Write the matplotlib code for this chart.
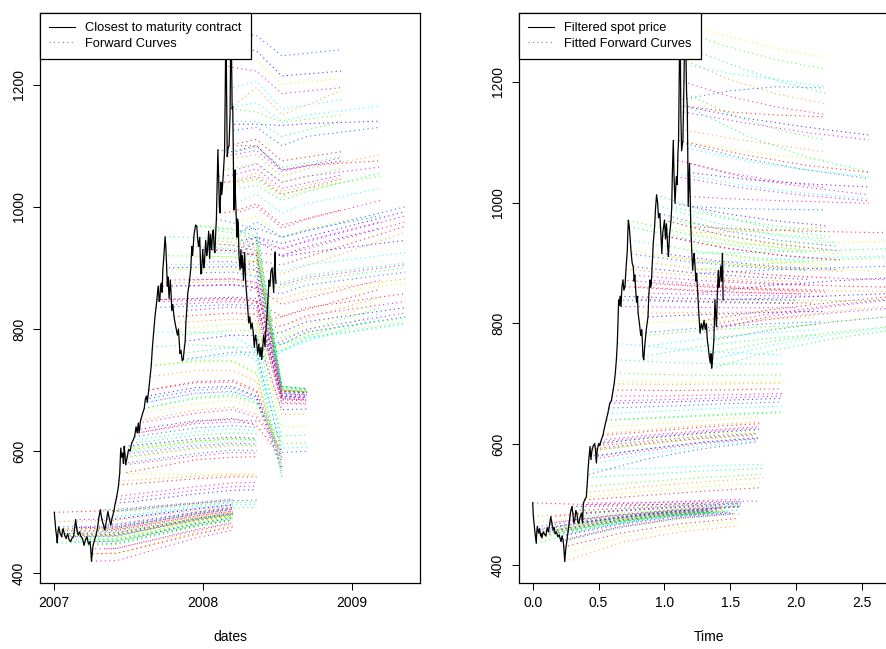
import numpy as np
import matplotlib
matplotlib.use('Agg')
import matplotlib.pyplot as plt
from matplotlib.lines import Line2D

plt.rcParams['font.family'] = ['Liberation Sans', 'DejaVu Sans']
plt.rcParams['font.size'] = 10

# ---------------- left panel: closest-to-maturity contract ----------------
spot_left = [
    (2007.000, 500), (2007.005, 485), (2007.010, 471), (2007.015, 462), (2007.020, 450), (2007.025, 468),
    (2007.030, 476), (2007.040, 465), (2007.050, 460), (2007.055, 470), (2007.060, 473), (2007.070, 462),
    (2007.080, 457), (2007.090, 465), (2007.100, 455), (2007.110, 452), (2007.120, 458), (2007.130, 460),
    (2007.137, 475), (2007.144, 488), (2007.150, 475), (2007.160, 463), (2007.170, 468), (2007.180, 460),
    (2007.190, 457), (2007.200, 446), (2007.210, 455), (2007.220, 460), (2007.230, 448), (2007.240, 452),
    (2007.245, 440), (2007.250, 420), (2007.255, 432), (2007.260, 445), (2007.270, 454), (2007.280, 462),
    (2007.290, 473), (2007.300, 492), (2007.310, 504), (2007.315, 495), (2007.320, 488), (2007.330, 480),
    (2007.340, 471), (2007.350, 485), (2007.360, 501), (2007.370, 490), (2007.380, 479), (2007.390, 492),
    (2007.400, 501), (2007.410, 515), (2007.420, 526), (2007.430, 540), (2007.440, 564), (2007.447, 605),
    (2007.453, 590), (2007.460, 597), (2007.465, 580), (2007.470, 608), (2007.475, 595), (2007.480, 578),
    (2007.490, 590), (2007.500, 603), (2007.510, 600), (2007.520, 613), (2007.530, 618), (2007.540, 624),
    (2007.550, 640), (2007.557, 630), (2007.565, 646), (2007.570, 630), (2007.580, 650), (2007.594, 662),
    (2007.605, 670), (2007.612, 685), (2007.620, 690), (2007.625, 680), (2007.635, 700), (2007.644, 722),
    (2007.652, 740), (2007.660, 771), (2007.668, 795), (2007.677, 820), (2007.684, 835), (2007.690, 848),
    (2007.695, 862), (2007.700, 870), (2007.705, 845), (2007.710, 848), (2007.715, 870), (2007.720, 875),
    (2007.725, 860), (2007.730, 897), (2007.737, 920), (2007.745, 951), (2007.750, 935), (2007.755, 905),
    (2007.760, 870), (2007.765, 885), (2007.772, 850), (2007.780, 880), (2007.785, 860), (2007.790, 830),
    (2007.797, 840), (2007.805, 820), (2007.812, 810), (2007.820, 800), (2007.828, 790), (2007.835, 800),
    (2007.845, 760), (2007.852, 765), (2007.860, 748), (2007.867, 750), (2007.873, 765), (2007.880, 780),
    (2007.885, 810), (2007.890, 830), (2007.898, 860), (2007.905, 870), (2007.910, 880), (2007.918, 900),
    (2007.925, 935), (2007.930, 920), (2007.940, 955), (2007.950, 970), (2007.958, 968), (2007.965, 945),
    (2007.970, 935), (2007.978, 950), (2007.985, 890), (2007.990, 892), (2007.998, 930), (2008.005, 900),
    (2008.010, 910), (2008.018, 945), (2008.025, 920), (2008.030, 930), (2008.038, 960), (2008.045, 915),
    (2008.050, 955), (2008.058, 930), (2008.065, 960), (2008.070, 962), (2008.075, 930), (2008.080, 925),
    (2008.085, 955), (2008.090, 980), (2008.095, 1040), (2008.100, 1093), (2008.105, 1050), (2008.110, 1000),
    (2008.115, 990), (2008.120, 1040), (2008.125, 1020), (2008.130, 1030), (2008.138, 1060), (2008.145, 1090),
    (2008.150, 1200), (2008.155, 1330), (2008.158, 1200), (2008.163, 1082), (2008.168, 1095), (2008.175, 1100),
    (2008.182, 1150), (2008.188, 1330), (2008.192, 1250), (2008.196, 1160), (2008.200, 1164), (2008.204, 1080),
    (2008.208, 995), (2008.212, 1040), (2008.215, 1060), (2008.218, 1020), (2008.222, 990), (2008.228, 950),
    (2008.232, 980), (2008.237, 974), (2008.242, 920), (2008.249, 897), (2008.255, 930), (2008.260, 900),
    (2008.265, 920), (2008.272, 880), (2008.280, 925), (2008.286, 880), (2008.292, 860), (2008.300, 837),
    (2008.307, 810), (2008.315, 820), (2008.322, 800), (2008.330, 810), (2008.338, 794), (2008.345, 770),
    (2008.352, 790), (2008.360, 780), (2008.368, 760), (2008.375, 775), (2008.383, 755), (2008.390, 770),
    (2008.395, 750), (2008.400, 765), (2008.408, 790), (2008.417, 771), (2008.423, 800), (2008.430, 820),
    (2008.437, 850), (2008.444, 880), (2008.450, 870), (2008.457, 895), (2008.465, 900), (2008.470, 880),
    (2008.475, 860), (2008.480, 900), (2008.484, 925), (2008.487, 890), (2008.490, 875),
]
spot_dates = [d for d, p in spot_left]
spot_price = [p for d, p in spot_left]

# forward curves: (observation date, price at observation, prices at the group's maturities)
la_knots = [2007.42, 2007.95, 2008.20]
la_curves = [
    (2007.00, 500, 503, 515, 520), (2007.005, 485, 487, 503, 510), (2007.01, 471, 472, 492, 500),
    (2007.015, 462, 464, 486, 494), (2007.02, 450, 452, 478, 488), (2007.025, 468, 470, 490, 499),
    (2007.03, 476, 478, 500, 508), (2007.04, 465, 467, 489, 498), (2007.05, 460, 462, 487, 496),
    (2007.055, 470, 471, 494, 502), (2007.06, 473, 474, 497, 505), (2007.07, 462, 463, 488, 496),
    (2007.08, 457, 458, 484, 493), (2007.09, 465, 466, 490, 498), (2007.10, 452, 453, 480, 490),
    (2007.115, 455, 456, 483, 492), (2007.12, 460, 461, 489, 497), (2007.137, 475, 476, 497, 505),
    (2007.14, 488, 489, 506, 513), (2007.15, 475, 476, 498, 506), (2007.16, 463, 464, 490, 499),
    (2007.17, 468, 469, 492, 500), (2007.18, 457, 458, 486, 494), (2007.20, 446, 447, 476, 486),
    (2007.21, 455, 456, 482, 492), (2007.22, 460, 461, 488, 497), (2007.23, 448, 449, 478, 488),
    (2007.24, 452, 453, 481, 491), (2007.245, 440, 441, 472, 483), (2007.25, 420, 421, 458, 471),
    (2007.255, 432, 433, 464, 476), (2007.26, 432, 433, 466, 478), (2007.27, 454, 455, 483, 492),
    (2007.28, 462, 463, 488, 497), (2007.29, 473, 474, 497, 505), (2007.30, 492, 493, 509, 516),
    (2007.31, 504, 505, 516, 522), (2007.32, 488, 489, 505, 512), (2007.33, 480, 481, 500, 508),
    (2007.34, 471, 472, 494, 502), (2007.35, 440, 441, 470, 482), (2007.37, 462, 463, 487, 496),
    (2007.39, 450, 452, 478, 489),
]
lb_knots = [2007.55, 2007.95, 2008.20, 2008.36]
lb_curves = [
    (2007.36, 501, 503, 512, 516, 517), (2007.38, 479, 484, 500, 507, 508),
    (2007.39, 492, 495, 507, 512, 513), (2007.40, 501, 505, 514, 519, 520),
    (2007.41, 515, 518, 530, 536, 537), (2007.415, 520, 524, 536, 542, 543),
    (2007.42, 526, 530, 542, 548, 549), (2007.43, 545, 547, 555, 558, 558),
    (2007.435, 552, 553, 559, 561, 561), (2007.44, 564, 563, 562, 563, 563),
]
lc_knots = [2007.95, 2008.20, 2008.36]
lc_curves = [
    (2007.447, 605, 617, 620, 618), (2007.453, 590, 606, 611, 610), (2007.46, 597, 612, 616, 615),
    (2007.465, 580, 596, 602, 601), (2007.47, 608, 620, 623, 621), (2007.475, 595, 609, 613, 612),
    (2007.48, 578, 592, 598, 597), (2007.485, 565, 586, 590, 591), (2007.49, 590, 604, 609, 608),
    (2007.50, 603, 615, 619, 617), (2007.51, 602, 616, 621, 619), (2007.52, 613, 626, 630, 628),
    (2007.53, 618, 632, 636, 634), (2007.54, 624, 638, 642, 639), (2007.55, 635, 650, 652, 649),
    (2007.557, 630, 645, 648, 645),
]
ld_knots = [2007.95, 2008.20, 2008.36, 2008.53]
ld_curves = [
    (2007.565, 646, 662, 668, 655, 600), (2007.57, 630, 648, 654, 642, 590),
    (2007.58, 650, 667, 672, 660, 605), (2007.594, 662, 678, 683, 670, 612),
    (2007.60, 670, 686, 690, 677, 616), (2007.605, 670, 688, 693, 680, 596),
    (2007.61, 680, 694, 697, 683, 620), (2007.612, 685, 700, 703, 688, 588),
    (2007.62, 690, 704, 706, 690, 574), (2007.625, 680, 695, 698, 684, 568),
    (2007.63, 700, 712, 713, 697, 580), (2007.635, 700, 714, 716, 700, 592),
    (2007.644, 722, 732, 732, 714, 585), (2007.652, 740, 746, 746, 726, 575),
    (2007.65, 740, 748, 748, 728, 560), (2007.66, 771, 774, 770, 748, 565),
    (2007.67, 795, 795, 790, 765, 556),
]
le_knots = [2008.20, 2008.36, 2008.53, 2008.70]
le_curves = [
    (2007.684, 835, 840, 838, 686, 684), (2007.69, 848, 852, 850, 690, 688),
    (2007.70, 870, 872, 868, 695, 692), (2007.705, 845, 848, 846, 688, 686),
    (2007.71, 848, 850, 846, 684, 682), (2007.72, 875, 878, 873, 698, 695),
    (2007.73, 897, 898, 890, 700, 697), (2007.737, 920, 918, 908, 702, 699),
    (2007.745, 951, 948, 936, 705, 700), (2007.755, 905, 906, 898, 700, 697),
    (2007.76, 870, 873, 868, 692, 690), (2007.77, 900, 902, 896, 699, 696),
    (2007.78, 880, 882, 876, 694, 692), (2007.79, 840, 845, 842, 686, 684),
    (2007.805, 820, 826, 824, 680, 678), (2007.812, 810, 816, 814, 660, 661),
    (2007.82, 800, 808, 806, 640, 641), (2007.83, 790, 798, 797, 612, 614),
    (2007.845, 760, 770, 770, 625, 626), (2007.86, 748, 758, 758, 605, 607),
    (2007.867, 750, 762, 762, 598, 600), (2007.88, 780, 790, 789, 668, 669),
    (2007.89, 830, 836, 833, 678, 677), (2007.905, 870, 872, 867, 686, 684),
    (2007.91, 880, 882, 876, 690, 688), (2007.925, 935, 930, 921, 700, 697),
    (2007.93, 920, 918, 910, 698, 695), (2007.95, 970, 964, 952, 707, 703),
    (2007.958, 968, 962, 950, 706, 702), (2007.97, 935, 932, 924, 700, 697),
    (2007.99, 892, 893, 886, 690, 688), (2008.00, 930, 928, 920, 697, 695),
    (2008.01, 910, 910, 903, 694, 692), (2008.02, 940, 937, 928, 699, 697),
    (2008.03, 930, 928, 920, 698, 696), (2008.04, 945, 942, 932, 700, 698),
    (2008.05, 955, 950, 940, 702, 699), (2008.06, 940, 937, 928, 699, 697),
    (2008.07, 962, 957, 946, 704, 700), (2008.08, 925, 924, 916, 696, 694),
    (2008.09, 980, 974, 962, 706, 702),
]
lf_knots = [2008.20, 2008.36, 2008.53, 2008.93]
lf_curves = [
    (2008.10, 1093, 1090, 1100, 1060, 1075), (2008.105, 1050, 1052, 1062, 1030, 1052),
    (2008.11, 1040, 1040, 1050, 1020, 1045), (2008.115, 990, 992, 1005, 970, 995),
    (2008.12, 1040, 1042, 1055, 1025, 1048), (2008.125, 1030, 1032, 1045, 1015, 1040),
    (2008.138, 1060, 1062, 1072, 1040, 1062), (2008.14, 1090, 1088, 1098, 1064, 1082),
    (2008.15, 1200, 1195, 1205, 1160, 1175), (2008.155, 1290, 1285, 1280, 1247, 1257),
    (2008.16, 1265, 1262, 1255, 1214, 1222), (2008.163, 1082, 1085, 1092, 1058, 1080),
    (2008.17, 1230, 1228, 1222, 1185, 1195), (2008.175, 1100, 1102, 1110, 1075, 1090),
    (2008.18, 1175, 1165, 1195, 1150, 1190), (2008.185, 1250, 1245, 1240, 1200, 1210),
    (2008.19, 1160, 1160, 1155, 1138, 1150), (2008.195, 1140, 1140, 1140, 1115, 1140),
]
lg_knots = [2008.36, 2008.53, 2008.70, 2009.19]
lg_curves = [
    (2008.20, 1164, 1170, 1140, 1150, 1165), (2008.205, 1125, 1130, 1100, 1115, 1130),
    (2008.21, 1135, 1135, 1133, 1136, 1140), (2008.215, 1060, 1070, 1040, 1050, 1065),
    (2008.22, 990, 1000, 965, 980, 1010), (2008.225, 1100, 1100, 1060, 1068, 1075),
    (2008.23, 1080, 1085, 1050, 1062, 1085), (2008.237, 974, 985, 950, 965, 990),
    (2008.24, 1040, 1045, 1020, 1030, 1050), (2008.245, 1030, 1035, 1010, 1025, 1055),
    (2008.255, 1010, 1020, 990, 1005, 1030), (2008.26, 960, 975, 950, 962, 985),
    (2008.265, 925, 945, 920, 935, 965), (2008.27, 940, 950, 930, 945, 975),
    (2008.29, 860, 868, 840, 850, 880), (2008.30, 837, 845, 820, 832, 865),
    (2008.31, 820, 828, 805, 818, 852), (2008.32, 805, 812, 792, 806, 842),
    (2008.33, 794, 800, 785, 798, 835), (2008.34, 780, 785, 775, 788, 825),
    (2008.35, 765, 768, 765, 780, 818),
]
lh_knots = [2008.36, 2008.53, 2009.36]
lh_curves = [
    (2008.25, 960, 965, 950, 1000), (2008.26, 945, 950, 940, 992), (2008.27, 935, 940, 932, 985),
    (2008.275, 920, 925, 920, 975), (2008.28, 905, 912, 905, 968), (2008.285, 890, 898, 890, 958),
]
li_knots = [2008.53, 2008.70, 2009.36]
li_curves = [
    (2008.36, 760, 770, 790, 812), (2008.37, 770, 775, 795, 818), (2008.383, 755, 765, 786, 810),
    (2008.39, 750, 762, 784, 808), (2008.40, 765, 775, 795, 820), (2008.408, 790, 795, 812, 835),
    (2008.417, 771, 780, 800, 826), (2008.425, 800, 805, 822, 845), (2008.43, 815, 820, 835, 858),
    (2008.437, 850, 850, 862, 882), (2008.44, 840, 842, 855, 875), (2008.45, 870, 868, 880, 900),
    (2008.46, 880, 876, 888, 908), (2008.47, 900, 895, 905, 925), (2008.475, 860, 858, 872, 893),
    (2008.484, 925, 918, 925, 945), (2008.49, 875, 872, 884, 905),
]

# ---------------- right panel: filtered spot price ----------------
spot_right = [
    (0.000, 503), (0.005, 480), (0.010, 470), (0.018, 452), (0.027, 436), (0.031, 455), (0.035, 464),
    (0.040, 458), (0.045, 453), (0.052, 460), (0.060, 448), (0.065, 452), (0.070, 445), (0.080, 455),
    (0.090, 451), (0.100, 448), (0.110, 462), (0.120, 455), (0.130, 470), (0.137, 480), (0.145, 470),
    (0.155, 458), (0.163, 462), (0.170, 452), (0.180, 455), (0.190, 447), (0.200, 450), (0.215, 439),
    (0.222, 448), (0.230, 442), (0.236, 430), (0.243, 406), (0.250, 425), (0.260, 442), (0.270, 460),
    (0.280, 475), (0.289, 490), (0.298, 497), (0.305, 485), (0.312, 470), (0.320, 475), (0.327, 490),
    (0.335, 486), (0.342, 472), (0.350, 469), (0.360, 480), (0.370, 486), (0.378, 470), (0.385, 503),
    (0.395, 508), (0.407, 513), (0.414, 535), (0.420, 558), (0.428, 580), (0.435, 596), (0.442, 575),
    (0.450, 590), (0.460, 598), (0.470, 601), (0.477, 590), (0.483, 569), (0.490, 590), (0.500, 601),
    (0.510, 598), (0.520, 607), (0.533, 615), (0.546, 629), (0.558, 640), (0.570, 651), (0.578, 660),
    (0.585, 668), (0.597, 672), (0.610, 690), (0.618, 700), (0.627, 718), (0.635, 740), (0.642, 767),
    (0.647, 800), (0.652, 839), (0.658, 830), (0.663, 845), (0.670, 828), (0.677, 860), (0.685, 872),
    (0.692, 855), (0.700, 861), (0.708, 890), (0.718, 921), (0.722, 950), (0.726, 971), (0.733, 960),
    (0.740, 938), (0.748, 915), (0.755, 900), (0.763, 894), (0.770, 870), (0.775, 880), (0.780, 861),
    (0.788, 835), (0.795, 845), (0.800, 817), (0.810, 800), (0.820, 780), (0.828, 790), (0.837, 745),
    (0.843, 740), (0.850, 762), (0.862, 790), (0.875, 811), (0.882, 850), (0.890, 872), (0.895, 860),
    (0.900, 866), (0.908, 900), (0.915, 933), (0.925, 960), (0.932, 990), (0.940, 1013), (0.948, 1000),
    (0.955, 975), (0.965, 982), (0.972, 950), (0.980, 916), (0.987, 950), (0.993, 960), (1.000, 971),
    (1.008, 940), (1.015, 965), (1.020, 944), (1.025, 925), (1.030, 911), (1.038, 945), (1.045, 960),
    (1.050, 971), (1.055, 993), (1.060, 1050), (1.067, 1103), (1.073, 1040), (1.080, 999), (1.085, 1020),
    (1.090, 1043), (1.097, 1030), (1.102, 1080), (1.107, 1103), (1.112, 1200), (1.118, 1330), (1.124, 1150),
    (1.130, 1086), (1.135, 1095), (1.140, 1103), (1.148, 1200), (1.156, 1330), (1.162, 1250), (1.168, 1180),
    (1.173, 1159), (1.177, 1080), (1.180, 994), (1.185, 1030), (1.190, 1065), (1.195, 1010), (1.200, 960),
    (1.207, 920), (1.214, 888), (1.220, 905), (1.225, 916), (1.232, 895), (1.238, 870), (1.244, 883),
    (1.252, 850), (1.260, 820), (1.270, 784), (1.280, 800), (1.290, 790), (1.300, 805), (1.310, 790),
    (1.318, 800), (1.325, 773), (1.333, 760), (1.340, 745), (1.348, 735), (1.353, 750), (1.358, 726),
    (1.363, 735), (1.368, 750), (1.375, 773), (1.383, 839), (1.390, 810), (1.395, 795), (1.400, 840),
    (1.408, 888), (1.414, 860), (1.420, 872), (1.428, 895), (1.434, 870), (1.440, 916), (1.443, 880),
    (1.445, 839),
]
spot_time = [t for t, p in spot_right]
spot_filtered = [p for t, p in spot_right]

# fitted curves: (start time, end time, four prices evenly spread from start to end)
fit_curves = [
    (0.000, 1.30, 503, 500, 500, 502), (0.005, 1.30, 480, 488, 494, 498), (0.010, 1.31, 470, 482, 490, 495),
    (0.018, 1.32, 452, 470, 482, 489), (0.027, 1.33, 436, 462, 478, 486), (0.031, 1.33, 455, 471, 483, 490),
    (0.035, 1.34, 464, 476, 486, 492), (0.040, 1.34, 458, 473, 484, 490), (0.045, 1.35, 453, 470, 482, 489),
    (0.052, 1.35, 460, 474, 485, 491), (0.060, 1.36, 448, 467, 480, 487), (0.065, 1.36, 452, 469, 481, 488),
    (0.070, 1.37, 445, 466, 479, 486), (0.080, 1.38, 455, 471, 483, 489), (0.090, 1.39, 451, 469, 481, 488),
    (0.100, 1.40, 448, 467, 480, 487), (0.110, 1.41, 462, 476, 486, 492), (0.120, 1.42, 455, 471, 483, 490),
    (0.130, 1.43, 470, 481, 489, 494), (0.137, 1.44, 480, 488, 494, 498), (0.145, 1.45, 470, 481, 489, 494),
    (0.155, 1.45, 458, 474, 485, 491), (0.163, 1.46, 462, 476, 486, 492), (0.170, 1.47, 452, 470, 482, 489),
    (0.180, 1.48, 455, 471, 483, 489), (0.190, 1.49, 447, 467, 480, 487), (0.200, 1.50, 450, 468, 481, 488),
    (0.215, 1.52, 439, 462, 477, 485), (0.222, 1.52, 448, 467, 480, 487), (0.230, 1.53, 442, 464, 478, 486),
    (0.236, 1.54, 430, 453, 468, 477), (0.243, 1.56, 406, 438, 455, 465), (0.250, 1.56, 420, 447, 463, 472),
    (0.260, 1.57, 442, 463, 477, 485), (0.270, 1.57, 458, 473, 484, 491), (0.280, 1.58, 475, 484, 492, 497),
    (0.289, 1.58, 490, 494, 499, 503), (0.298, 1.58, 497, 498, 502, 505), (0.305, 1.58, 485, 491, 497, 501),
    (0.312, 1.58, 470, 482, 491, 497), (0.320, 1.58, 475, 485, 493, 498), (0.327, 1.58, 490, 495, 500, 503),
    (0.335, 1.58, 486, 492, 498, 502), (0.342, 1.57, 472, 483, 492, 497), (0.350, 1.57, 469, 481, 490, 496),
    (0.360, 1.58, 480, 488, 495, 500), (0.370, 1.58, 486, 492, 498, 502), (0.378, 1.58, 470, 482, 491, 497),
    (0.380, 1.72, 500, 503, 505, 506), (0.385, 1.58, 503, 503, 506, 509), (0.395, 1.72, 508, 515, 522, 528),
    (0.400, 1.75, 520, 530, 538, 544), (0.407, 1.74, 513, 522, 530, 536), (0.412, 1.73, 530, 538, 545, 550),
    (0.415, 1.74, 545, 550, 556, 560), (0.420, 1.76, 558, 560, 564, 567),
    (0.425, 1.70, 550, 575, 592, 604), (0.428, 1.71, 580, 592, 603, 610), (0.435, 1.70, 596, 605, 613, 618),
    (0.442, 1.70, 575, 589, 601, 609), (0.445, 1.69, 592, 602, 610, 616), (0.455, 1.70, 590, 600, 609, 614),
    (0.460, 1.70, 598, 607, 615, 620), (0.470, 1.71, 601, 610, 618, 623), (0.477, 1.71, 590, 601, 611, 617),
    (0.483, 1.70, 569, 585, 597, 606), (0.490, 1.70, 580, 593, 604, 611), (0.500, 1.72, 601, 611, 619, 625),
    (0.510, 1.72, 604, 613, 621, 627), (0.520, 1.71, 607, 616, 623, 629), (0.533, 1.72, 615, 622, 629, 634),
    (0.535, 1.72, 618, 625, 632, 637), (0.546, 1.72, 629, 634, 640, 645),
    (0.558, 1.88, 640, 644, 648, 652), (0.560, 1.88, 640, 645, 650, 654), (0.570, 1.89, 651, 655, 660, 663),
    (0.578, 1.89, 660, 663, 667, 670), (0.585, 1.90, 668, 670, 673, 676), (0.597, 1.90, 672, 674, 677, 680),
    (0.600, 1.90, 680, 680, 682, 684), (0.610, 1.89, 690, 689, 690, 692), (0.618, 1.90, 700, 699, 700, 701),
    (0.620, 1.91, 705, 703, 703, 704), (0.627, 1.90, 718, 715, 714, 715), (0.635, 1.90, 740, 735, 733, 733),
    (0.642, 1.89, 767, 758, 752, 748),
    (0.652, 2.00, 839, 836, 834, 833), (0.663, 2.00, 845, 842, 840, 839), (0.670, 2.00, 828, 827, 826, 826),
    (0.685, 2.02, 872, 864, 858, 855), (0.700, 2.03, 861, 855, 851, 849), (0.710, 2.05, 890, 880, 873, 869),
    (0.718, 2.05, 921, 906, 896, 890), (0.726, 2.06, 971, 948, 932, 922), (0.733, 2.07, 960, 940, 926, 917),
    (0.740, 2.08, 938, 921, 910, 903), (0.750, 2.08, 915, 902, 893, 888), (0.763, 2.10, 894, 884, 877, 873),
    (0.775, 2.11, 880, 872, 866, 863), (0.780, 2.12, 861, 855, 851, 849), (0.790, 2.12, 840, 837, 835, 834),
    (0.800, 2.13, 817, 818, 819, 820), (0.810, 2.14, 800, 804, 807, 810), (0.820, 2.15, 780, 788, 794, 798),
    (0.837, 2.17, 745, 762, 774, 782), (0.850, 2.18, 762, 775, 784, 790), (0.860, 2.19, 785, 793, 799, 803),
    (0.875, 2.20, 811, 815, 818, 820), (0.882, 2.21, 850, 848, 846, 845), (0.890, 2.22, 872, 864, 858, 855),
    (0.900, 2.23, 866, 860, 855, 852), (0.908, 2.24, 900, 888, 880, 875), (0.915, 2.25, 933, 916, 904, 897),
    (0.930, 2.26, 975, 950, 933, 922), (0.940, 2.27, 1013, 980, 957, 943), (0.955, 2.28, 995, 966, 946, 934),
    (0.965, 2.30, 982, 956, 938, 928), (0.980, 2.31, 916, 903, 894, 889), (0.990, 2.32, 945, 926, 913, 905),
    (1.000, 2.33, 971, 946, 930, 920), (1.020, 2.35, 944, 925, 912, 905), (1.030, 2.36, 911, 899, 891, 886),
    (1.045, 2.38, 960, 938, 923, 914),
    (1.050, 2.22, 971, 958, 948, 940), (1.055, 2.22, 993, 975, 962, 952), (1.060, 2.55, 1050, 1030, 1016, 1006),
    (1.067, 2.55, 1103, 1075, 1055, 1040), (1.080, 2.22, 999, 982, 970, 962), (1.090, 2.55, 1043, 1025, 1012, 1003),
    (1.100, 2.22, 1070, 1050, 1036, 1025), (1.107, 2.55, 1103, 1080, 1062, 1050), (1.112, 2.22, 1240, 1205, 1180, 1164),
    (1.116, 2.22, 1300, 1275, 1255, 1239), (1.120, 2.20, 1285, 1258, 1237, 1222), (1.125, 2.22, 1260, 1230, 1202, 1181),
    (1.130, 2.22, 1230, 1214, 1204, 1192), (1.135, 2.21, 1171, 1185, 1192, 1190), (1.140, 2.55, 1160, 1140, 1125, 1112),
    (1.145, 2.55, 1150, 1132, 1116, 1104), (1.148, 2.22, 1200, 1175, 1158, 1146), (1.150, 2.22, 1160, 1150, 1145, 1142),
    (1.160, 2.22, 1120, 1106, 1095, 1084), (1.165, 2.22, 1100, 1088, 1078, 1070), (1.168, 2.22, 1180, 1145, 1120, 1104),
    (1.173, 2.55, 1159, 1110, 1075, 1051), (1.178, 2.55, 1090, 1068, 1054, 1043), (1.180, 2.22, 994, 990, 989, 988),
    (1.185, 2.55, 1050, 1038, 1031, 1026), (1.190, 2.55, 1065, 1040, 1025, 1013), (1.195, 2.55, 1010, 1005, 1002, 999),
    (1.200, 2.75, 960, 955, 952, 950), (1.205, 2.25, 950, 952, 955, 960), (1.210, 2.74, 930, 932, 934, 936),
    (1.214, 2.75, 888, 898, 905, 910), (1.225, 2.75, 916, 918, 921, 924), (1.235, 2.72, 900, 905, 909, 912),
    (1.244, 2.75, 883, 888, 892, 895), (1.255, 2.75, 850, 862, 870, 876), (1.270, 2.75, 784, 810, 828, 840),
    (1.285, 2.75, 795, 815, 830, 842), (1.300, 2.75, 805, 822, 835, 845), (1.310, 2.75, 790, 808, 820, 830),
    (1.325, 2.75, 773, 790, 803, 812), (1.340, 2.75, 750, 770, 785, 796), (1.358, 2.75, 726, 755, 775, 790),
    (1.365, 2.75, 740, 765, 782, 795), (1.375, 2.75, 773, 790, 803, 812), (1.383, 2.75, 839, 842, 846, 850),
    (1.395, 2.75, 795, 808, 818, 826), (1.408, 2.75, 888, 880, 875, 872), (1.420, 2.75, 872, 866, 862, 860),
    (1.430, 2.75, 860, 856, 854, 853), (1.440, 2.75, 916, 900, 890, 884), (1.445, 2.75, 839, 838, 838, 838),
]

rainbow = ['#FF0000', '#FF9900', '#CCFF00', '#33FF00', '#00FF66',
           '#00FFFF', '#0066FF', '#3300FF', '#CC00FF', '#FF0099']
dotted = (0, (1, 3))


def style_axes(ax):
    ax.tick_params(direction='out', length=5, width=0.75, pad=5, labelsize=10)
    ax.tick_params(axis='y', labelrotation=90)
    for lab in ax.get_yticklabels():
        lab.set_va('center')
    for sp in ax.spines.values():
        sp.set_linewidth(0.9)


def add_legend(ax, labels):
    handles = [Line2D([], [], color='black', lw=0.8),
               Line2D([], [], color='gray', lw=0.8, linestyle=dotted)]
    leg = ax.legend(handles, labels, loc='upper left', bbox_to_anchor=(0, 1),
                    borderaxespad=0, fancybox=False, framealpha=1, edgecolor='black',
                    handlelength=2.0, handletextpad=0.8, borderpad=0.7, labelspacing=0.3,
                    fontsize=9.3)
    leg.get_frame().set_linewidth(0.9)
    leg.set_zorder(10)


fig = plt.figure(figsize=(8.87, 6.49), dpi=100)
ax1 = fig.add_axes([40 / 887, 1 - 582.6 / 649, 380 / 887, 569.6 / 649])
ax2 = fig.add_axes([519 / 887, 1 - 582.6 / 649, 380 / 887, 569.6 / 649])

# left panel
k = 0
for knots, rows in [(la_knots, la_curves), (lb_knots, lb_curves), (lc_knots, lc_curves),
                    (ld_knots, ld_curves), (le_knots, le_curves), (lf_knots, lf_curves),
                    (lg_knots, lg_curves), (lh_knots, lh_curves), (li_knots, li_curves)]:
    for row in rows:
        xs = [row[0]] + list(knots)
        ax1.plot(xs, row[1:], color=rainbow[k % len(rainbow)], lw=0.8,
                 linestyle=dotted, alpha=0.8)
        k += 1
ax1.plot(spot_dates, spot_price, color='black', lw=0.9)
ax1.set_xlim(2006.904, 2009.459)
ax1.set_ylim(385, 1317)
ax1.set_xticks([2007, 2008, 2009])
ax1.set_xticklabels(['2007', '2008', '2009'])
ax1.set_yticks([400, 600, 800, 1000, 1200])
ax1.set_xlabel('dates', fontsize=10, labelpad=14)
style_axes(ax1)
add_legend(ax1, ['Closest to maturity contract', 'Forward Curves'])

# right panel
for i, row in enumerate(fit_curves):
    ts = np.linspace(row[0], row[1], 4)
    ax2.plot(ts, row[2:], color=rainbow[i % len(rainbow)], lw=0.8,
             linestyle=dotted, alpha=0.8)
ax2.plot(spot_time, spot_filtered, color='black', lw=0.9)
ax2.set_xlim(-0.104, 2.780)
ax2.set_ylim(371, 1314)
ax2.set_xticks([0.0, 0.5, 1.0, 1.5, 2.0, 2.5])
ax2.set_xticklabels(['0.0', '0.5', '1.0', '1.5', '2.0', '2.5'])
ax2.set_yticks([400, 600, 800, 1000, 1200])
ax2.set_xlabel('Time', fontsize=10, labelpad=14)
style_axes(ax2)
add_legend(ax2, ['Filtered spot price', 'Fitted Forward Curves'])

fig.savefig('out.png', dpi=100)
